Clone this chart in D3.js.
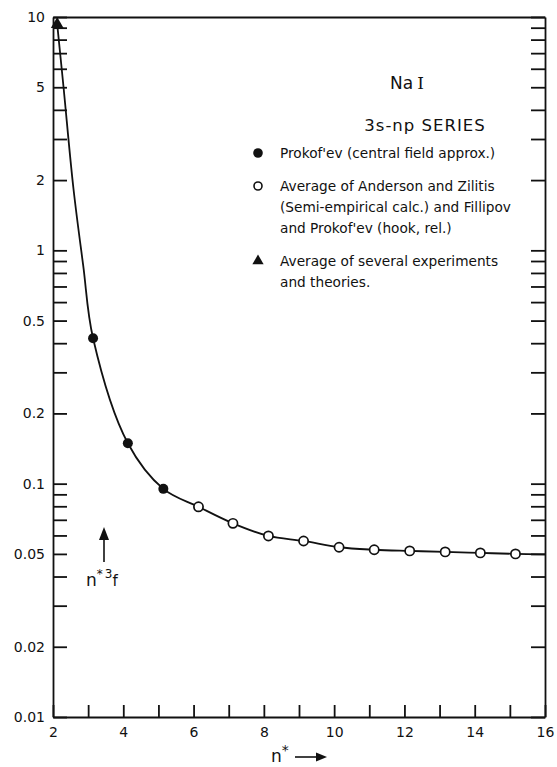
<!DOCTYPE html>
<html lang="en">

<head>
    <meta charset="UTF-8">
    <title>NaI 3s-np series</title>
    <script src="https://d3js.org/d3.v7.min.js"></script>
    <style>
        body { margin: 0; background: #fff; }
        text { font-family: "DejaVu Sans", sans-serif; fill: #111; }
        .axis path, .axis line { stroke: #111; stroke-width: 1.8; }
        .axis text { font-size: 14px; }
    </style>
</head>

<body>

    <svg id="chart"></svg>

    <script>
        // values
        const triN = [2.12];
        const triF = [9.3];

        const filledN = [3.14, 4.13, 5.14];
        const filledF = [0.42, 0.149, 0.095];

        const openN = [6.14, 7.12, 8.13, 9.13, 10.14, 11.14, 12.15, 13.16, 14.16, 15.16];
        const openF = [0.0796, 0.0676, 0.0597, 0.0568, 0.0534, 0.0521, 0.0515, 0.0510, 0.0505, 0.0500];

        // the drawn smooth curve
        const curveN = [2.12, 2.3, 2.58, 2.86, 3.14, 4.13, 5.14, 6.14, 7.12, 8.13, 9.13, 10.14, 11.14, 12.15, 13.16, 14.16, 15.16, 16];
        const curveF = [9.3, 5.0, 1.85, 0.86, 0.42, 0.149, 0.095, 0.0796, 0.0676, 0.0597, 0.0568, 0.0534, 0.0521, 0.0515, 0.0510, 0.0505, 0.0500, 0.0498];

        const yLabelVals = [10, 5, 2, 1, 0.5, 0.2, 0.1, 0.05, 0.02, 0.01];
        const yLabelText = ["10", "5", "2", "1", "0.5", "0.2", "0.1", "0.05", "0.02", "0.01"];
        const xLabelVals = [2, 4, 6, 8, 10, 12, 14, 16];

        const legendLines = [
            ["Prokof'ev (central field approx.)"],
            ["Average of Anderson and Zilitis", "(Semi-empirical calc.) and Fillipov", "and Prokof'ev (hook, rel.)"],
            ["Average of several experiments", "and theories."]
        ];

        const width = 557, height = 767;
        const mLeft = 53, mRight = 545, mTop = 17, mBottom = 717;

        const svg = d3.select("#chart").attr("width", width).attr("height", height);

        const x = d3.scaleLinear().domain([2, 16]).range([mLeft, mRight]);
        const y = d3.scaleLog().domain([0.01, 10]).range([mBottom, mTop]);

        const yTicks = y.ticks();
        const labelFor = (d) => {
            const i = yLabelVals.findIndex((v) => Math.abs(v - d) / v < 1e-6);
            return i < 0 ? "" : yLabelText[i];
        };

        // left axis, ticks inside
        svg.append("g").attr("class", "axis")
            .attr("transform", `translate(${mLeft},0)`)
            .call(d3.axisLeft(y).tickValues(yTicks).tickSizeInner(-14).tickSizeOuter(0)
                .tickPadding(8).tickFormat(labelFor));

        // right axis, ticks inside, no labels
        svg.append("g").attr("class", "axis")
            .attr("transform", `translate(${mRight},0)`)
            .call(d3.axisRight(y).tickValues(yTicks).tickSizeInner(-14).tickSizeOuter(0)
                .tickFormat(() => ""));

        // bottom axis
        svg.append("g").attr("class", "axis")
            .attr("transform", `translate(0,${mBottom})`)
            .call(d3.axisBottom(x).ticks(14).tickSizeInner(-12).tickSizeOuter(0)
                .tickPadding(10).tickFormat((d) => xLabelVals.includes(d) ? d : ""));

        // top frame line
        svg.append("g").attr("class", "axis")
            .attr("transform", `translate(0,${mTop})`)
            .call(d3.axisTop(x).tickValues([]).tickSizeOuter(0));

        // curve
        const line = d3.line()
            .x((d) => x(d[0]))
            .y((d) => y(d[1]))
            .curve(d3.curveCatmullRom.alpha(0.5));

        svg.append("path")
            .datum(d3.zip(curveN, curveF))
            .attr("fill", "none")
            .attr("stroke", "#111")
            .attr("stroke-width", 1.8)
            .attr("d", line);

        // markers
        svg.selectAll(".filled")
            .data(d3.zip(filledN, filledF))
            .join("circle")
            .attr("class", "filled")
            .attr("cx", (d) => x(d[0]))
            .attr("cy", (d) => y(d[1]))
            .attr("r", 5)
            .attr("fill", "#111");

        svg.selectAll(".open")
            .data(d3.zip(openN, openF))
            .join("circle")
            .attr("class", "open")
            .attr("cx", (d) => x(d[0]))
            .attr("cy", (d) => y(d[1]))
            .attr("r", 4.6)
            .attr("fill", "#fff")
            .attr("stroke", "#111")
            .attr("stroke-width", 1.7);

        const tri = d3.symbol().type(d3.symbolTriangle).size(70);
        svg.selectAll(".tri")
            .data(d3.zip(triN, triF))
            .join("path")
            .attr("class", "tri")
            .attr("transform", (d) => `translate(${x(d[0])},${y(d[1])})`)
            .attr("d", tri)
            .attr("fill", "#111");

        // title
        const title = svg.append("text")
            .attr("x", 407).attr("y", 89)
            .attr("text-anchor", "middle")
            .style("font-size", "17px");
        title.append("tspan").text("Na");
        title.append("tspan").style("font-family", "DejaVu Serif").attr("dx", 4).text("I");

        svg.append("text")
            .attr("x", 425).attr("y", 131)
            .attr("text-anchor", "middle")
            .style("font-size", "16.5px")
            .style("letter-spacing", "1px")
            .text("3s-np SERIES");

        // legend
        const legendY = [158, 191, 266];
        const mx = 258, tx = 280;
        legendLines.forEach((lines, i) => {
            lines.forEach((s, j) => {
                svg.append("text")
                    .attr("x", tx).attr("y", legendY[i] + j * 21)
                    .style("font-size", "13.7px")
                    .text(s);
            });
        });
        svg.append("circle").attr("cx", mx).attr("cy", legendY[0] - 5).attr("r", 4.8).attr("fill", "#111");
        svg.append("circle").attr("cx", mx).attr("cy", legendY[1] - 5).attr("r", 4)
            .attr("fill", "#fff").attr("stroke", "#111").attr("stroke-width", 1.6);
        svg.append("path").attr("transform", `translate(${mx},${legendY[2] - 5})`)
            .attr("d", d3.symbol().type(d3.symbolTriangle).size(55)).attr("fill", "#111");

        // n*^3 f label with arrow
        svg.append("line")
            .attr("x1", 104).attr("x2", 104).attr("y1", 562).attr("y2", 536)
            .attr("stroke", "#111").attr("stroke-width", 1.6);
        svg.append("path")
            .attr("d", "M104,527 L99,540 L109,540 Z")
            .attr("fill", "#111");
        const yl = svg.append("text").attr("x", 86).attr("y", 586).style("font-size", "17px");
        yl.append("tspan").text("n");
        yl.append("tspan").attr("dy", -8).style("font-size", "12px").text("*");
        yl.append("tspan").attr("dx", 2).style("font-size", "12px").text("3");
        yl.append("tspan").attr("dy", 8).style("font-size", "15px").text("f");

        // n* label with arrow
        const xl = svg.append("text").attr("x", 271).attr("y", 762).style("font-size", "17px");
        xl.append("tspan").text("n");
        xl.append("tspan").attr("dy", -7).style("font-size", "14px").text("*");
        svg.append("line")
            .attr("x1", 295).attr("x2", 318).attr("y1", 757).attr("y2", 757)
            .attr("stroke", "#111").attr("stroke-width", 1.6);
        svg.append("path")
            .attr("d", "M327,757 L316,752.5 L316,761.5 Z")
            .attr("fill", "#111");
    </script>
</body>

</html>
